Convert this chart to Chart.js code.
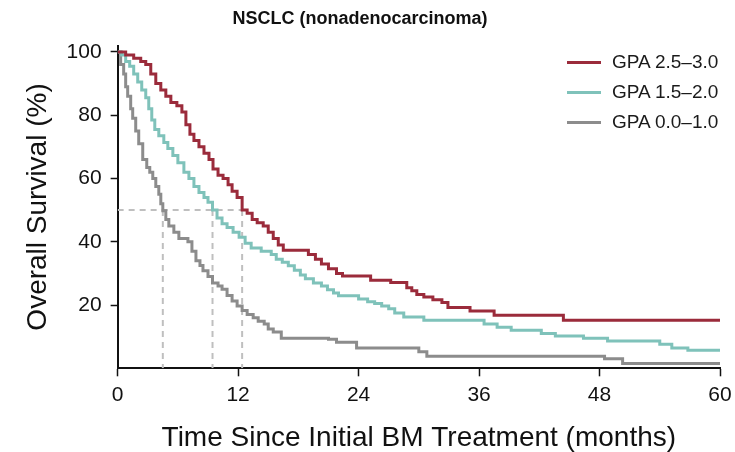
<!DOCTYPE html>
<html>
<head>
<meta charset="utf-8">
<script src="https://cdn.jsdelivr.net/npm/chart.js@4/dist/chart.umd.min.js"></script>
<style>
  html, body { margin: 0; padding: 0; background: #ffffff; }
  #wrap { position: relative; width: 735px; height: 452px; }
  #legend { position: absolute; left: 567px; top: 50px; font-family: "Liberation Sans", Arial, sans-serif; font-size: 19px; color: #1a1a1a; }
  .row { position: relative; height: 30px; line-height: 24px; white-space: nowrap; }
  .sw { position: absolute; left: 0; top: 11px; width: 34px; height: 3px; }
  .lb { position: absolute; left: 45px; top: 0; }
</style>
</head>
<body>
<div id="wrap">
  <canvas id="c" width="735" height="452"></canvas>
  <div id="legend"></div>
</div>
<script>
// ---- data ----
const chartTitle = "NSCLC (nonadenocarcinoma)";
const xTitle = "Time Since Initial BM Treatment (months)";
const yTitle = "Overall Survival (%)";
const seriesNames = ["GPA 2.5\u20133.0", "GPA 1.5\u20132.0", "GPA 0.0\u20131.0"];
const seriesColors = ["#9b2b3b", "#7fc2ba", "#8c8c8c"];
const xTicks = [0, 12, 24, 36, 48, 60];
const yTicks = [20, 40, 60, 80, 100];

// GPA 2.5-3.0 (months, % surviving)
const highTimes = [0, 0.8, 1.6, 2.3, 2.8, 3.3, 3.8, 4.3, 4.8, 5.3, 5.9, 6.4, 6.8, 7.2, 7.6, 8.1, 8.6, 9.1, 9.5, 10.0, 10.5, 11.0, 11.4, 11.9, 12.4, 12.9, 13.4, 13.9, 14.5, 15.0, 15.5, 16.0, 16.5, 19.0, 19.7, 20.3, 21.0, 21.8, 22.4, 25.2, 27.2, 28.8, 29.3, 29.8, 30.5, 31.4, 32.3, 32.9, 35.1, 37.5, 44.4, 60];
const highSurv  = [100, 99, 98, 97, 96, 93, 90, 88, 86, 84, 83, 81, 77, 74, 72, 70, 68, 66, 63, 61, 60, 58, 56, 54, 50, 49, 47, 46, 45, 43, 41, 39, 37.3, 36, 34.5, 33, 31.5, 30, 29.2, 27.8, 27.1, 25.5, 24.5, 23.3, 22.5, 21.7, 20.8, 19.2, 18.1, 16.8, 15.2, 15.2];

// GPA 1.5-2.0
const midTimes = [0, 0.4, 0.8, 1.2, 1.6, 2.0, 2.4, 2.8, 3.1, 3.4, 3.7, 4.1, 4.6, 5.0, 5.5, 6.0, 6.6, 7.1, 7.6, 8.1, 8.6, 9.0, 9.45, 9.9, 10.4, 10.9, 11.5, 12.1, 12.7, 13.3, 14.3, 15.3, 15.8, 16.4, 17.0, 17.6, 18.2, 18.7, 19.5, 20.3, 20.9, 21.5, 22.0, 24.0, 24.9, 25.6, 26.3, 27.0, 27.6, 28.5, 30.5, 36.5, 37.8, 39.2, 42.2, 43.6, 46.4, 48.8, 54.0, 55.2, 56.8, 60];
const midSurv  = [100, 99, 97, 95.5, 93, 90.5, 88, 85.5, 82, 78.5, 75.5, 73.5, 71.4, 69.5, 67.3, 65, 62, 60, 57.5, 55.6, 54, 52.5, 50, 47.5, 45.7, 44.5, 43, 41.4, 39.5, 38, 37, 36, 34.5, 33.5, 32.4, 31, 29.5, 28.3, 27, 26, 24.8, 23.8, 22.9, 21.9, 21, 20.5, 19.7, 18.8, 17.5, 16.2, 15.2, 14, 13, 12, 11, 10.2, 9.5, 8.6, 7.6, 6.4, 5.7, 5.7];

// GPA 0.0-1.0
const lowTimes = [0, 0.3, 0.6, 0.8, 1.0, 1.3, 1.5, 1.8, 2.1, 2.5, 2.9, 3.2, 3.5, 3.8, 4.1, 4.3, 4.5, 4.8, 5.1, 5.6, 6.1, 7.0, 7.4, 7.8, 8.2, 8.5, 9.0, 9.45, 10.0, 10.4, 10.9, 11.4, 11.9, 12.4, 12.9, 13.5, 14.0, 14.6, 15.0, 15.5, 16.3, 21.0, 21.8, 23.8, 30.0, 30.8, 48.5, 50.3, 60];
const lowSurv  = [100, 96, 93, 89, 86, 82, 79, 75, 71, 66, 63.5, 62, 60, 57.5, 55, 52, 49.8, 47, 45, 43, 41, 40, 37, 34, 32.5, 30.8, 29, 27, 26, 25, 23, 21.3, 19.7, 18.3, 17, 16, 14.9, 14, 12.4, 11.5, 9.5, 9.2, 8.2, 6.4, 5.2, 3.8, 3.0, 1.5, 1.5];

// median survival times (months) at 50%
const medianLevel = 50;
const medianTimes = [4.5, 9.45, 12.4];

// ---- build chart ----
const FONT = '"Liberation Sans", Arial, Helvetica, sans-serif';
function pts(xs, ys) { return xs.map((x, i) => ({ x: x, y: ys[i] })); }

const curveData = [pts(highTimes, highSurv), pts(midTimes, midSurv), pts(lowTimes, lowSurv)];
const datasets = curveData.map((d, i) => ({
  label: seriesNames[i],
  data: d,
  borderColor: seriesColors[i],
  backgroundColor: seriesColors[i],
  borderWidth: 3,
  stepped: 'before',
  pointRadius: 0,
  fill: false
}));

const dashStyle = { borderColor: '#bfbfbf', borderWidth: 2, borderDash: [6, 5], pointRadius: 0, fill: false, tension: 0 };
const maxMedian = Math.max.apply(null, medianTimes);
datasets.push(Object.assign({ label: '_h', data: [{ x: 0, y: medianLevel }, { x: maxMedian, y: medianLevel }] }, dashStyle));
medianTimes.forEach(t => {
  datasets.push(Object.assign({ label: '_v', data: [{ x: t, y: medianLevel }, { x: t, y: 0 }] }, dashStyle));
});

new Chart(document.getElementById('c'), {
  type: 'line',
  data: { datasets: datasets },
  options: {
    responsive: false,
    animation: false,
    layout: { padding: { left: 0, right: 15, top: 0, bottom: 0 } },
    plugins: {
      legend: { display: false },
      tooltip: { enabled: false },
      title: {
        display: true,
        text: chartTitle,
        color: '#111',
        font: { family: FONT, size: 18, weight: 'bold' },
        padding: { top: 8, bottom: 16 }
      }
    },
    scales: {
      x: {
        type: 'linear',
        min: 0, max: 60,
        afterBuildTicks: s => { s.ticks = xTicks.map(v => ({ value: v })); },
        afterFit: s => { s.paddingRight = 0; },
        ticks: { color: '#111', font: { family: FONT, size: 21 }, padding: 6, maxRotation: 0, autoSkip: false },
        grid: { display: true, drawOnChartArea: false, drawTicks: true, tickLength: 8, color: '#111', tickWidth: 1.5 },
        border: { display: true, color: '#111', width: 2 },
        title: { display: true, text: xTitle, color: '#111', font: { family: FONT, size: 28, lineHeight: 1.0 }, padding: { top: 10.5, bottom: 0 } }
      },
      y: {
        type: 'linear',
        min: 0, max: 102,
        afterBuildTicks: s => { s.ticks = yTicks.map(v => ({ value: v })); },
        ticks: { color: '#111', font: { family: FONT, size: 21 }, padding: 9, autoSkip: false },
        grid: { display: true, drawOnChartArea: false, drawTicks: true, tickLength: 7, color: '#111', tickWidth: 1.5 },
        border: { display: true, color: '#111', width: 2 },
        title: { display: true, text: yTitle, color: '#111', font: { family: FONT, size: 28 }, padding: { top: 21, bottom: 3 } }
      }
    }
  }
});

// legend (HTML text)
const lg = document.getElementById('legend');
seriesNames.forEach((n, i) => {
  const r = document.createElement('div'); r.className = 'row';
  const s = document.createElement('div'); s.className = 'sw'; s.style.background = seriesColors[i];
  const t = document.createElement('div'); t.className = 'lb'; t.textContent = n;
  r.appendChild(s); r.appendChild(t); lg.appendChild(r);
});
</script>
</body>
</html>
